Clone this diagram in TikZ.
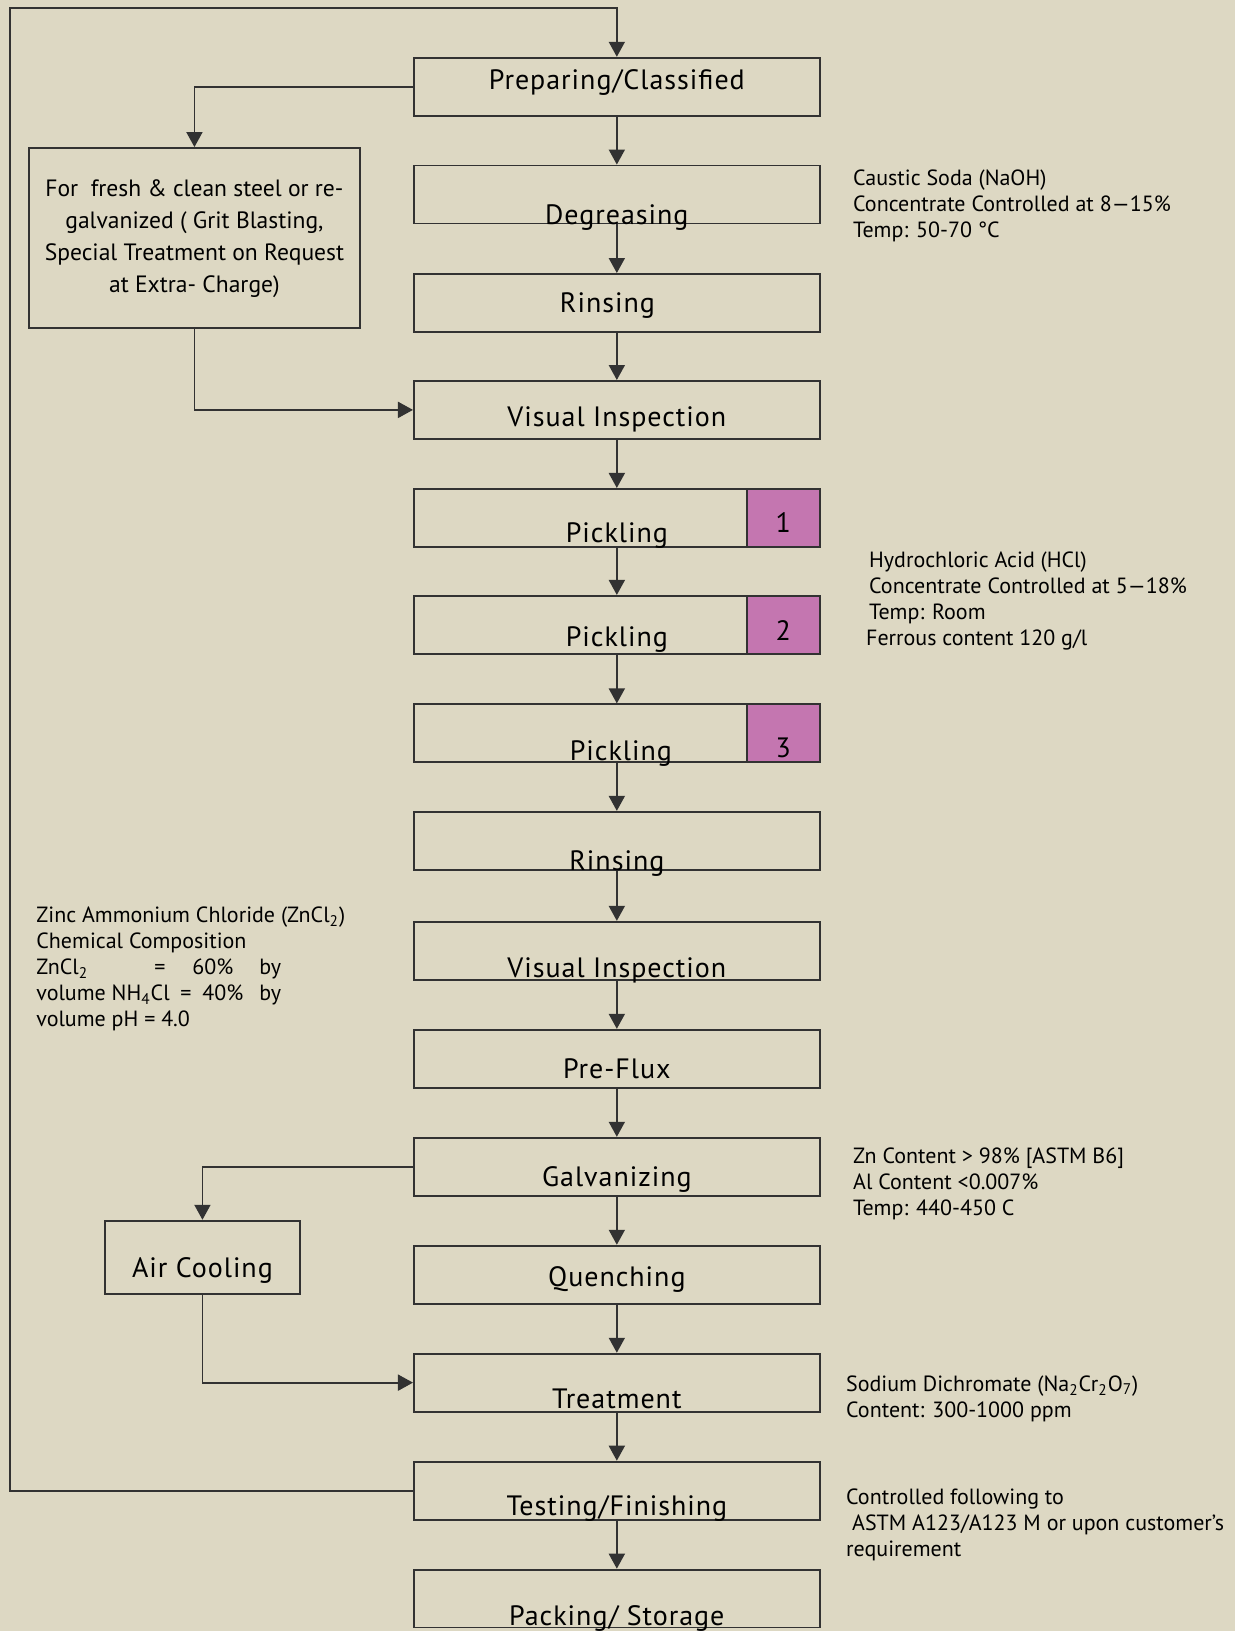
\documentclass[tikz,border=0pt]{standalone}
\usepackage{fontspec}
\setmainfont{PT Sans}
\newfontfamily\stagefont[LetterSpace=3.5]{PT Sans}
\usetikzlibrary{arrows.meta}

\definecolor{paper}{RGB}{221,216,195}
\definecolor{tank}{RGB}{196,118,176}
\definecolor{ink}{RGB}{50,50,50}

\begin{document}
\begin{tikzpicture}[x=0.5pt, y=-0.5pt,
  stage/.style={draw=ink, line width=0.9pt, rectangle, minimum width=203pt, minimum height=29pt, inner sep=0pt},
  tanknum/.style={draw=ink, line width=0.9pt, fill=tank, minimum width=36.5pt, minimum height=29pt, inner sep=0pt},
  sidebox/.style={draw=ink, line width=0.9pt, align=center, inner sep=0pt},
  lbl/.style={anchor=base, inner sep=0pt, font=\stagefont\fontsize{14}{16}\selectfont},
  note/.style={anchor=north west, align=left, inner sep=0pt, font=\fontsize{11}{13}\selectfont},
  flow/.style={draw=ink, line width=0.9pt, -{Triangle[length=7.5pt,width=8pt]}}]
  \fill[paper] (0,0) rectangle (1235,1631);

  % main line
  \node (prep) [stage, label={[lbl, yshift=13.4pt]south:Preparing/Classified}] at (617,86.7) {};
  \node (degr) [stage, label={[lbl, yshift=0pt]south:Degreasing}] at (617,194.5) {};
  \node (rins1) [stage, label={[lbl, yshift=10pt, xshift=-4.7pt]south:Rinsing}] at (617,303) {};
  \node (vis1) [stage, label={[lbl, yshift=6.4pt]south:Visual Inspection}] at (617,410) {};
  \node (pick1) [stage, label={[lbl, yshift=2.7pt]south:Pickling}] at (617,518) {};
  \node (pick2) [stage, label={[lbl, yshift=4.3pt]south:Pickling}] at (617,625) {};
  \node (pick3) [stage, label={[lbl, yshift=1.2pt, xshift=2pt]south:Pickling}] at (617,733.5) {};
  \node (rins2) [stage, label={[lbl, yshift=0pt]south:Rinsing}] at (617,841) {};
  \node (vis2) [stage, label={[lbl, yshift=1.7pt]south:Visual Inspection}] at (617,951) {};
  \node (flux) [stage, label={[lbl, yshift=5.3pt]south:Pre-Flux}] at (617,1059) {};
  \node (galv) [stage, label={[lbl, yshift=4.8pt]south:Galvanizing}] at (617,1167) {};
  \node (quen) [stage, label={[lbl, yshift=9.2pt]south:Quenching}] at (617,1275) {};
  \node (treat) [stage, label={[lbl, yshift=2.2pt]south:Treatment}] at (617,1383) {};
  \node (test) [stage, label={[lbl, yshift=2.7pt]south:Testing/Finishing}] at (617,1491) {};
  \node (pack) [stage, label={[lbl, yshift=1.7pt]south:Packing/ Storage}] at (617,1599) {};

  % pickling tanks
  \node (tank1) [tanknum, label={[lbl, yshift=7.4pt]south:1}] at (783.5,518) {};
  \node (tank2) [tanknum, label={[lbl, yshift=7pt]south:2}] at (783.5,625) {};
  \node (tank3) [tanknum, label={[lbl, yshift=2.7pt]south:3}] at (783.5,733.5) {};

  % side boxes
  \node (fresh) [sidebox, minimum width=165.5pt, minimum height=90pt,
    label={[anchor=south, align=center, inner sep=0pt, yshift=15.5pt, font=\fontsize{11.8}{16}\selectfont]south:For\ \ fresh \& clean steel or re-\\galvanized ( Grit Blasting,\\Special Treatment on Request\\at Extra- Charge)}] at (194.5,238) {};
  \node (air) [sidebox, minimum width=97.5pt, minimum height=36.5pt, label={[lbl, yshift=8.5pt]south:Air Cooling}] at (202.5,1257.5) {};
  \coordinate (back) at (10,8);

  % notes
  \node (naoh) [note] at (853,169) {Caustic Soda (NaOH)\\Concentrate Controlled at 8—15\%\\Temp: 50-70 °C};
  \node (hcl) [note] at (869,552) {Hydrochloric Acid (HCl)\\Concentrate Controlled at 5—18\%\\Temp: Room\\\hspace*{-1.5pt}Ferrous content 120 g/l};
  \node (zinc) [note] at (36,907) {Zinc Ammonium Chloride (ZnCl\textsubscript{2})\\Chemical Composition\\
    \makebox[59pt][l]{ZnCl\textsubscript{2}}\makebox[19pt][l]{=}\makebox[33.5pt][l]{60\%}by\\
    \makebox[72pt][l]{volume NH\textsubscript{4}Cl}\makebox[11pt][l]{=}\makebox[28.5pt][l]{40\%}by\\
    volume pH = 4.0};
  \node (zn) [note] at (853,1148) {Zn Content > 98\% [ASTM B6]\\Al Content <0.007\%\\Temp: 440-450 C};
  \node (dichr) [note] at (846,1376) {Sodium Dichromate (Na\textsubscript{2}Cr\textsubscript{2}O\textsubscript{7})\\Content: 300-1000 ppm};
  \node (astm) [note] at (846,1489) {Controlled following to\\\hspace*{3pt}ASTM A123/A123 M or upon customer’s\\requirement};

  % connectors
  \draw[flow] (prep) -- (degr);
  \draw[flow] (degr) -- (rins1);
  \draw[flow] (rins1) -- (vis1);
  \draw[flow] (vis1) -- (pick1);
  \draw[flow] (pick1) -- (pick2);
  \draw[flow] (pick2) -- (pick3);
  \draw[flow] (pick3) -- (rins2);
  \draw[flow] (rins2) -- (vis2);
  \draw[flow] (vis2) -- (flux);
  \draw[flow] (flux) -- (galv);
  \draw[flow] (galv) -- (quen);
  \draw[flow] (quen) -- (treat);
  \draw[flow] (treat) -- (test);
  \draw[flow] (test) -- (pack);
  \draw[flow] (prep.west) -| (fresh.north);
  \draw[flow] (fresh.south) |- (vis1.west);
  \draw[flow] (galv.west) -| (air.north);
  \draw[flow] (air.south) |- (treat.west);
  \draw[flow] (test.west) -| (back) -| (prep.north);
\end{tikzpicture}
\end{document}
